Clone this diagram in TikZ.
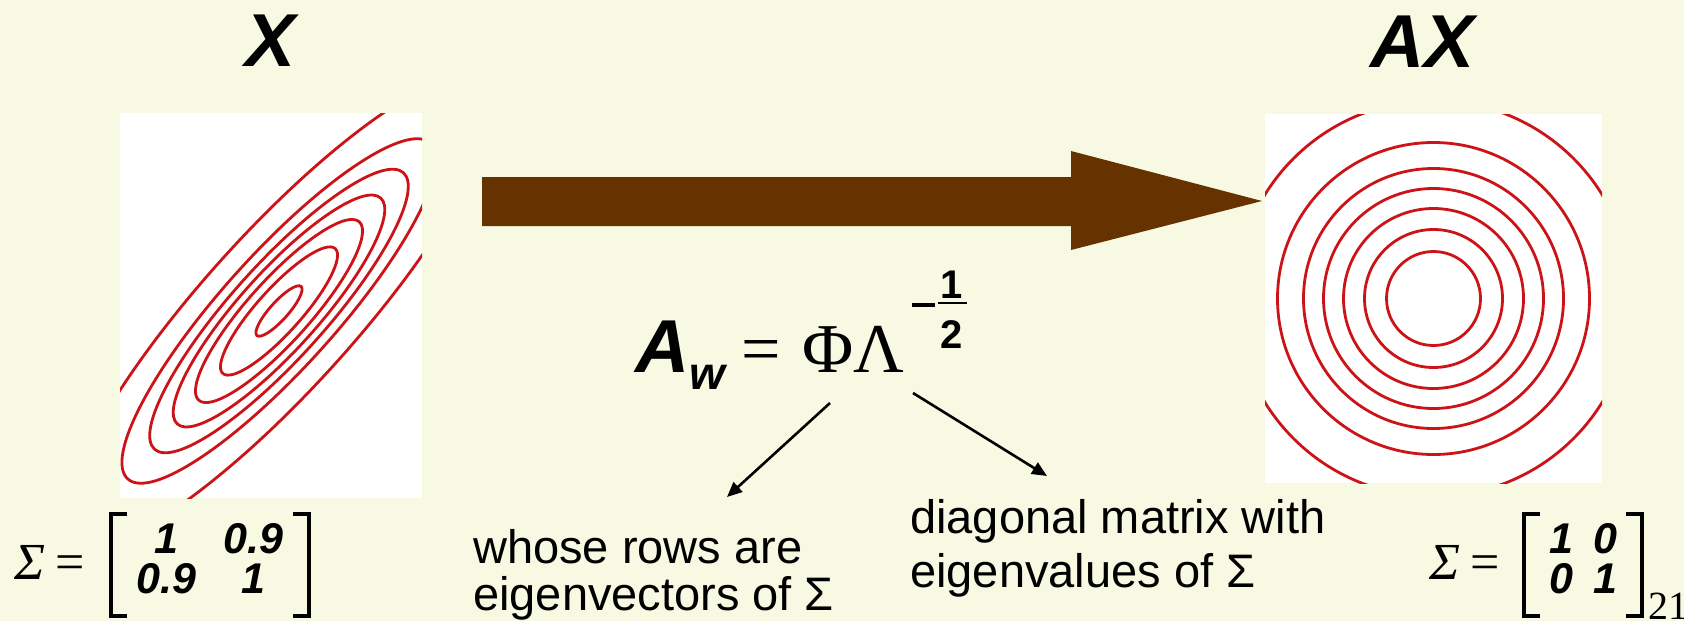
\documentclass[tikz,border=0pt]{standalone}
\usepackage{fontspec}
\setmainfont{Liberation Sans}
\newfontfamily\greekserif{Liberation Serif}
\usetikzlibrary{arrows.meta,calc,positioning}
\definecolor{slidebg}{RGB}{248,249,226}
\definecolor{arrowbrown}{RGB}{102,51,0}
\definecolor{contourred}{RGB}{204,20,24}
\newcommand{\fsz}[1]{\fontsize{#1}{#1}\selectfont}
\tikzset{
  plot panel/.style={fill=white,inner sep=0pt,outer sep=0pt},
  contour line/.style={draw=contourred,line width=2.8pt},
  title label/.style={font=\fsz{75}\bfseries\itshape,inner sep=0pt},
  note label/.style={align=left,inner sep=0pt},
  sigma label/.style={font=\greekserif\fsz{52},inner sep=0pt},
  entry table/.style={font=\fontsize{43}{44}\selectfont\bfseries\itshape,inner sep=0pt},
  exp digit/.style={font=\fsz{40}\bfseries,inner sep=0pt},
  bracket line/.style={line width=3.5pt},
  pointer arrow/.style={-{Triangle[length=15pt,width=13pt]},line width=2.6pt},
  transform arrow/.style={fill=arrowbrown},
}

\begin{document}
\begin{tikzpicture}[x=1pt,y=-1pt]
  \fill[slidebg] (0,0) rectangle (1684,621);
  \useasboundingbox (0,0) rectangle (1684,621);

  % Correlated data X
  \node[plot panel,minimum width=302pt,minimum height=385pt] (xplot) at (271,305.5) {};
  \begin{scope}
    \clip (xplot.south west) rectangle (xplot.north east);
    \foreach \ra/\rb in {33/9,84/22,120/31,152/39,186/47,226/57,310/77}
      \draw[contour line] (279,311) circle [x radius=\ra, y radius=\rb, rotate=48];
  \end{scope}
  \node[title label,above=46pt of xplot.north] (xtitle) {X};

  % Whitened data AX
  \node[plot panel,minimum width=337pt,minimum height=369pt] (axplot) at (1433.5,298.5) {};
  \begin{scope}
    \clip (axplot.south west) rectangle (axplot.north east);
    \foreach \r in {47,69,90,110,130,156,198}
      \draw[contour line] (axplot.center) circle [radius=\r];
  \end{scope}
  \node[title label,above=46pt of axplot.north,xshift=-11pt] (axtitle) {AX};

  % The transform
  \fill[transform arrow] (482,177) -- (1071,177) -- (1071,151) -- (1262,201)
    -- (1071,250) -- (1071,226) -- (482,226) -- cycle;

  % Whitening matrix
  \node[anchor=base west,inner sep=0pt,font=\fsz{75}] (awdef) at (635,372)
    {{\bfseries\itshape A\raisebox{-17pt}{\fsz{46}w}}\hspace{16pt}{\greekserif\fsz{70}=\hspace{22pt}ΦΛ}};
  \node[exp digit,anchor=base] (expone) at (952,298) {1};
  \node[exp digit,anchor=base] (exptwo) at (952,348) {2};
  \draw[line width=3.5pt] (912,305) -- (935,305);
  \draw[line width=2pt] (938,303) -- (967,303);

  \node[note label,font=\fontsize{47}{47}\selectfont,anchor=north west] (rowsnote) at (473,529)
    {whose rows are\\eigenvectors of Σ};
  \node[note label,font=\fontsize{47}{54}\selectfont,anchor=north west] (diagnote) at (910,499)
    {diagonal matrix with\\eigenvalues of Σ};
  \coordinate (phifoot) at (830,403);
  \coordinate (rowstip) at (727,497);
  \coordinate (lamfoot) at (913,393);
  \coordinate (diagtip) at (1047,476);
  \draw[pointer arrow] (phifoot) -- (rowstip);
  \draw[pointer arrow] (lamfoot) -- (diagtip);

  % Covariances
  \node[sigma label,anchor=base west] (lsig) at (14,579) {{\itshape Σ}\hspace{10pt}=};
  \node[entry table] (lmat) at (210,565)
    {\begin{tabular}{@{}c@{\hspace{28pt}}c@{}}1 & 0.9\\[-4pt] 0.9 & 1\end{tabular}};
  \draw[bracket line] ($(lmat.north west)+(-9,-9)$) -- ++(-16,0) |- ($(lmat.south west)+(-9,9)$);
  \draw[bracket line] ($(lmat.north east)+(9,-9)$) -- ++(16,0) |- ($(lmat.south east)+(9,9)$);

  \node[sigma label,anchor=base west] (rsig) at (1429,579) {{\itshape Σ}\hspace{10pt}=};
  \node[entry table] (rmat) at (1583,565)
    {\begin{tabular}{@{}c@{\hspace{20pt}}c@{}}1 & 0\\[-4pt] 0 & 1\end{tabular}};
  \draw[bracket line] ($(rmat.north west)+(-9,-9)$) -- ++(-16,0) |- ($(rmat.south west)+(-9,9)$);
  \draw[bracket line] ($(rmat.north east)+(9,-9)$) -- ++(16,0) |- ($(rmat.south east)+(9,9)$);

  \node[font=\greekserif\fsz{40},anchor=base west,inner sep=0pt] (pagenum) at (1648,619) {21};
\end{tikzpicture}
\end{document}
